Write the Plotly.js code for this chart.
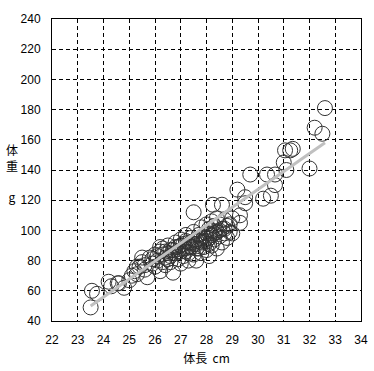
<!DOCTYPE html>
<html><head><meta charset="utf-8">
<script src="https://cdn.plot.ly/plotly-3.0.1.min.js"></script>
<style>body{margin:0;background:#fff}#c{width:374px;height:371px}</style>
</head><body><div id="c"></div>
<script>
const lengthCm = [23.5,23.55,23.75,24.2,24.3,24.55,24.6,24.8,25.0,25.1,25.2,25.3,25.3,25.4,25.5,25.5,25.6,25.7,25.8,25.9,26.0,26.0,26.1,26.2,26.2,26.2,26.3,26.3,26.4,26.4,26.5,26.5,26.6,26.6,26.7,26.7,26.8,26.8,26.9,26.9,27.0,27.0,27.0,27.1,27.1,27.2,27.2,27.3,27.3,27.3,27.4,27.4,27.5,27.5,27.5,27.5,27.6,27.6,27.7,27.7,27.8,27.8,27.8,27.9,27.9,28.0,28.0,28.0,28.0,28.1,28.1,28.1,28.2,28.2,28.2,28.25,28.3,28.3,28.4,28.4,28.4,28.5,28.5,28.6,28.6,28.6,28.7,28.7,28.8,28.8,28.9,29.0,29.0,29.2,29.3,29.3,29.5,29.5,29.7,30.2,30.35,30.5,30.66,30.66,31.0,31.05,31.1,31.25,31.35,32.0,32.2,32.5,32.6,
  25.6,25.9,26.1,26.3,26.5,26.6,26.8,26.9,27.0,27.1,27.2,27.3,27.4,27.6,27.7,27.8,27.9,28.0,28.1,28.2,28.3,28.5,28.7,28.9,27.2,26.4,27.6,28.1];
const weightG = [49,60,58,66,63,65,65,62,67,70,73,71,76,76,79,82,74,69,82,78,76,84,80,86,73,89,88,79,82,77,85,90,83,79,72,87,92,85,81,89,94,86,78,91,83,97,88,92,85,80,95,89,112,99,91,84,80,94,97,88,102,92,85,96,89,104,98,93,87,101,95,83,106,97,90,117,103,94,99,108,88,104,96,117,101,92,107,98,103,95,99,98,108,127,110,105,122,118,137,121,137,123,130,137,145,153,140,153,154,141,168,164,181,
  77,81,83,84,81,87,89,86,90,88,93,89,92,91,93,95,93,95,98,100,98,100,101,104,86,86,88,91];
const fitX = [23.5, 32.6];
const fitY = [50, 158];
const xTicks = [22,23,24,25,26,27,28,29,30,31,32,33,34];
const yTicks = [40,60,80,100,120,140,160,180,200,220,240];

const data = [
  {x: lengthCm, y: weightG, type:'scatter', mode:'markers',
   marker:{symbol:'circle-open', size:15, color:'#333', line:{width:1, color:'#333'}}},
  {x: fitX, y: fitY, type:'scatter', mode:'lines',
   line:{color:'#c0c0c0', width:3}}
];
const ax = {showline:true, mirror:true, linecolor:'#000', linewidth:1,
  showgrid:true, gridcolor:'#000', gridwidth:1, griddash:'4px,3px',
  zeroline:false, ticks:'', tickfont:{family:'Liberation Sans, Arial', size:12, color:'#000'}};
const layout = {
  width:374, height:371, showlegend:false,
  margin:{l:52, r:13, t:19, b:50},
  paper_bgcolor:'#fff', plot_bgcolor:'#fff',
  xaxis: Object.assign({}, ax, {range:[22,34], tickvals:xTicks, ticktext:xTicks.map(String), ticklabelstandoff:8,
    title:{text:'体長&nbsp;&nbsp;cm', font:{family:'Noto Sans CJK JP', size:12, color:'#000'}, standoff:8}}),
  yaxis: Object.assign({}, ax, {range:[40,240], tickvals:yTicks, ticktext:yTicks.map(String), ticklabelstandoff:8}),
  annotations:[{xref:'paper', yref:'paper', x:-0.128, y:0.49, xanchor:'center', yanchor:'middle',
    text:'体<br>重<br> <br>g', showarrow:false, align:'center',
    font:{family:'Noto Sans CJK JP', size:12, color:'#000'}}]
};
Plotly.newPlot('c', data, layout, {displayModeBar:false, staticPlot:true});
</script></body></html>
